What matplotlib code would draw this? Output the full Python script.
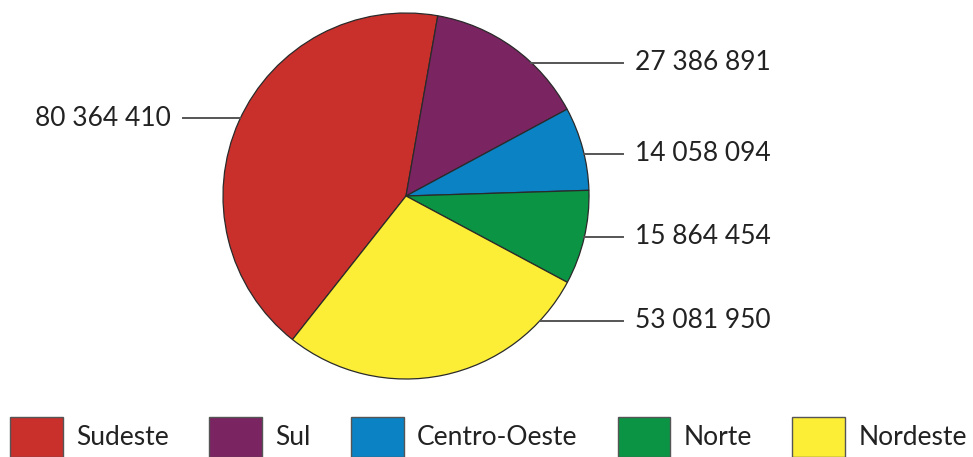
import matplotlib
matplotlib.use("Agg")
import matplotlib.pyplot as plt
import numpy as np
from matplotlib.patches import Patch

plt.rcParams['font.family'] = ['Lato', 'DejaVu Sans']

regions = ["Sudeste", "Sul", "Centro-Oeste", "Norte", "Nordeste"]
population = [80364410, 27386891, 14058094, 15864454, 53081950]
value_labels = ["80 364 410", "27 386 891", "14 058 094", "15 864 454", "53 081 950"]
colors = ["#C9302C", "#7A2461", "#0A82C3", "#0A9444", "#FCEE36"]

# layout: label vertical positions (pie data units) and sides
label_y = [0.426, 0.728, 0.230, -0.224, -0.683]
label_side = [-1, 1, 1, 1, 1]

W, H = 973, 457
fig = plt.figure(figsize=(W / 100, H / 100), dpi=100)
cx, cy, r = 406, 196, 183
ax = fig.add_axes([(cx - r) / W, (H - cy - r) / H, 2 * r / W, 2 * r / H])

total = sum(population)
start = 80 + 360 * population[0] / total
wedges, _ = ax.pie(population, colors=colors, startangle=start, counterclock=False,
                   wedgeprops=dict(edgecolor="#2a2a2a", linewidth=0.9))
ax.set_xlim(-1, 1)
ax.set_ylim(-1, 1)
ax.set_aspect('equal')
ax.axis('off')

line_outer = (623 - cx) / r
text_gap = 12 / r
for lab, y, side in zip(value_labels, label_y, label_side):
    xe = np.sqrt(max(0.0, 1 - y * y))
    if side > 0:
        x0, x1 = xe, line_outer
        ax.plot([x0, x1], [y, y], color="#555555", lw=1.4, clip_on=False)
        ax.text(x1 + text_gap, y, lab, ha='left', va='center', fontsize=19,
                color="#222222", clip_on=False)
    else:
        x0, x1 = -xe, (183 - cx) / r
        ax.plot([x0, x1], [y, y], color="#555555", lw=1.4, clip_on=False)
        ax.text(x1 - text_gap, y, lab, ha='right', va='center', fontsize=19,
                color="#222222", clip_on=False)

handles = [Patch(facecolor=c, edgecolor="#555555", linewidth=1.0) for c in colors]
leg = fig.legend(handles, regions, loc='center left', bbox_to_anchor=(10 / W, 1 - 437 / H),
                 ncol=5, frameon=False, fontsize=19, handlelength=2.0, handleheight=1.95,
                 handletextpad=0.5, columnspacing=1.53, borderpad=0.0, borderaxespad=0.0)
for t in leg.get_texts():
    t.set_color("#222222")

fig.savefig("out.png", dpi=100)
